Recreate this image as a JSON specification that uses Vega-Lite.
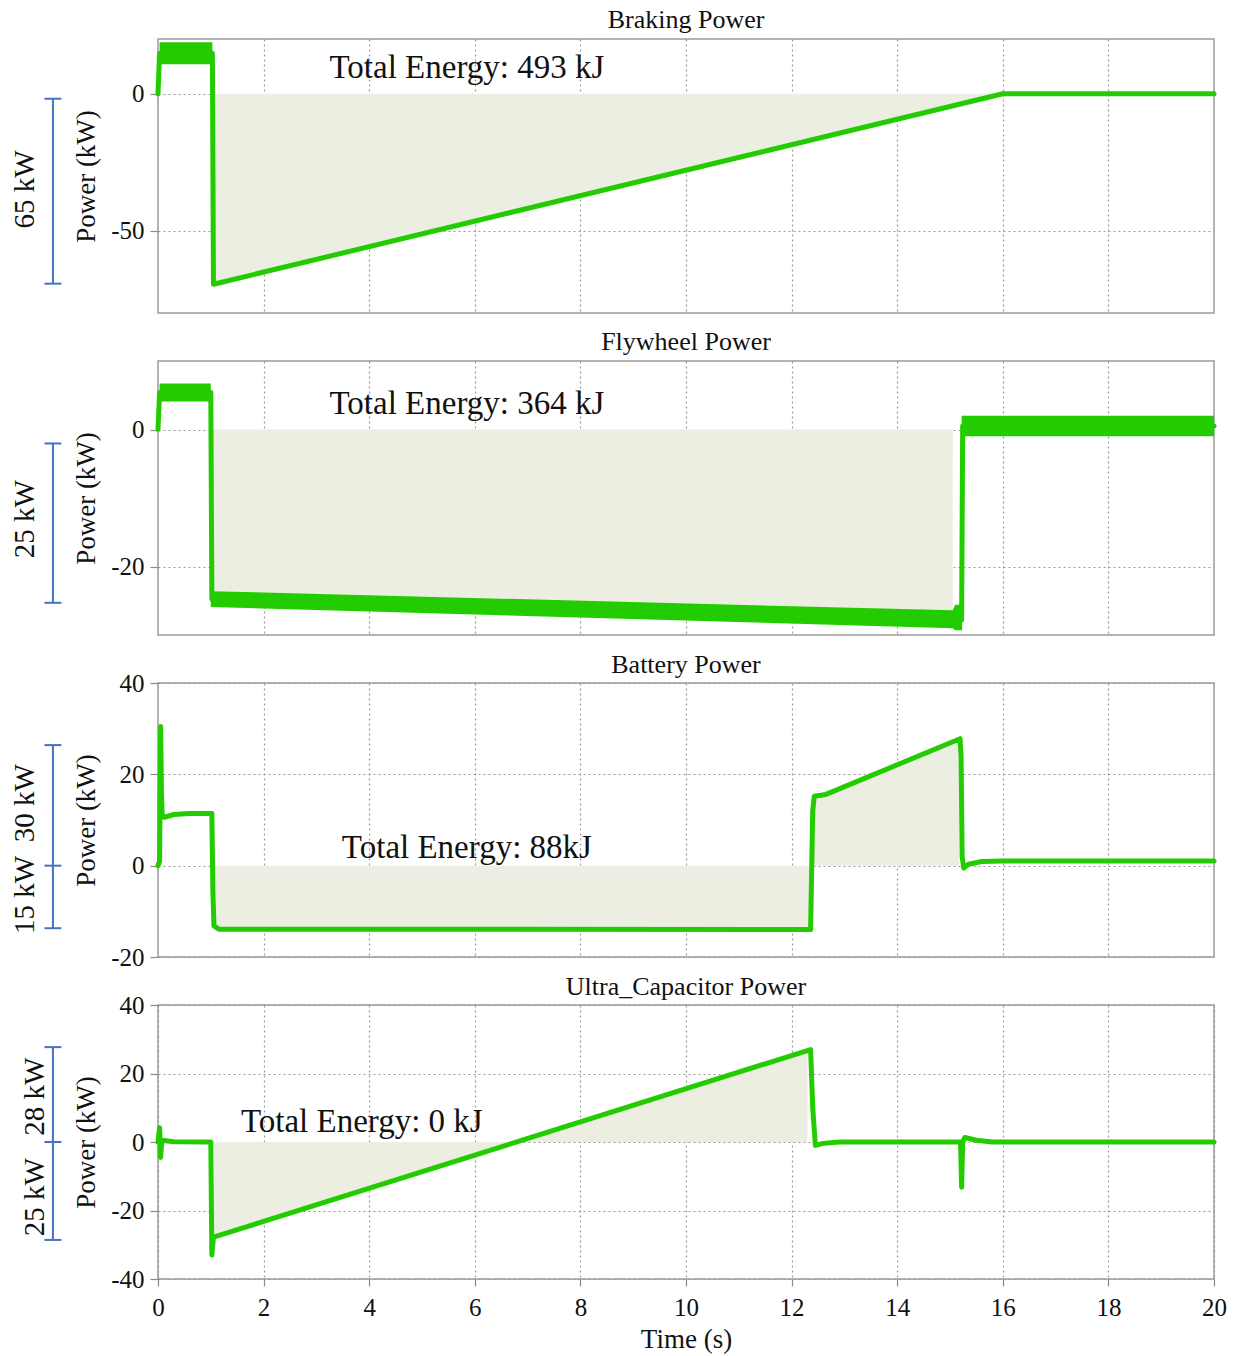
{
  "$schema": "https://vega.github.io/schema/vega-lite/v6.json",
  "padding": {"left": 10, "top": 6, "right": 10, "bottom": 4},
  "background": "white",
  "config": {
    "font": "Liberation Serif",
    "view": {"stroke": "#9a9a9a", "strokeWidth": 1.5},
    "axis": {
      "domain": false,
      "gridColor": "#9a9a9a",
      "gridDash": [2, 3],
      "gridWidth": 1.2,
      "tickColor": "#8a8a8a",
      "tickSize": 8,
      "tickWidth": 1.2,
      "labelFont": "Liberation Serif",
      "labelFontSize": 25,
      "labelColor": "#111",
      "labelPadding": 6,
      "labelExpr": "'' + datum.value",
      "titleFont": "Liberation Serif",
      "titleFontSize": 27,
      "titleFontWeight": "normal",
      "titleColor": "#111"
    },
    "title": {"font": "Liberation Serif", "fontSize": 26, "fontWeight": "normal", "color": "#111", "offset": 6}
  },
  "datasets": {
    "brake_line": [
      {"t": 0, "p": 0}, {"t": 0.03, "p": 14.8}, {"t": 1.03, "p": 14.8}, {"t": 1.05, "p": -69.5}, {"t": 16, "p": 0}, {"t": 20, "p": 0}
    ],
    "brake_band": [
      {"t": 0.03, "p": 10.8, "p2": 18.8}, {"t": 1.03, "p": 10.8, "p2": 18.8}
    ],
    "brake_fill": [
      {"t": 1.06, "p": -69}, {"t": 16, "p": 0}
    ],
    "brake_br": [
      {"t": -1.99, "p": -1.8, "p2": -69.3}
    ],
    "brake_cap": [
      {"t": -2.15, "t2": -1.83, "p": -1.8}, {"t": -2.15, "t2": -1.83, "p": -69.3}
    ],
    "brake_lab": [
      {"t": -2.52, "p": -34.9, "label": "65 kW"}
    ],
    "brake_txt": [
      {"t": 5.85, "p": 9.5, "label": "Total Energy: 493 kJ"}
    ],
    "fly_line": [
      {"t": 0, "p": 0}, {"t": 0.03, "p": 5.4}, {"t": 1.0, "p": 5.4}, {"t": 1.02, "p": -24.8}, {"t": 15.1, "p": -27.6}, {"t": 15.22, "p": -27.8}, {"t": 15.24, "p": 0.5}, {"t": 20, "p": 0.5}
    ],
    "fly_band": [
      {"t": 0.03, "p": 4.1, "p2": 6.7}, {"t": 1.0, "p": 4.1, "p2": 6.7}
    ],
    "fly_band2": [
      {"t": 1.0, "p": -25.9, "p2": -23.6}, {"t": 15.05, "p": -29.0, "p2": -26.4}, {"t": 15.1, "p": -29.3, "p2": -25.6}, {"t": 15.23, "p": -29.3, "p2": -25.6}
    ],
    "fly_band3": [
      {"t": 15.22, "p": -1.0, "p2": 2.0}, {"t": 20, "p": -1.0, "p2": 2.0}
    ],
    "fly_fill": [
      {"t": 1.03, "p": -23.7}, {"t": 15.05, "p": -26.5}
    ],
    "fly_br": [
      {"t": -1.99, "p": -2.04, "p2": -25.3}
    ],
    "fly_cap": [
      {"t": -2.15, "t2": -1.83, "p": -2.04}, {"t": -2.15, "t2": -1.83, "p": -25.3}
    ],
    "fly_lab": [
      {"t": -2.52, "p": -13.1, "label": "25 kW"}
    ],
    "fly_txt": [
      {"t": 5.85, "p": 3.65, "label": "Total Energy: 364 kJ"}
    ],
    "batt_line": [
      {"t": 0, "p": 0}, {"t": 0.03, "p": 1}, {"t": 0.05, "p": 30.5}, {"t": 0.065, "p": 16}, {"t": 0.08, "p": 11}, {"t": 0.12, "p": 10.6}, {"t": 0.3, "p": 11.2}, {"t": 0.6, "p": 11.4}, {"t": 1.02, "p": 11.4}, {"t": 1.04, "p": -6}, {"t": 1.06, "p": -13.2}, {"t": 1.15, "p": -13.9}, {"t": 12.36, "p": -14}, {"t": 12.4, "p": 12}, {"t": 12.43, "p": 15.2}, {"t": 12.65, "p": 15.6}, {"t": 15.19, "p": 27.8}, {"t": 15.21, "p": 24}, {"t": 15.23, "p": 2}, {"t": 15.26, "p": -0.5}, {"t": 15.35, "p": 0.3}, {"t": 15.6, "p": 0.9}, {"t": 16, "p": 1.0}, {"t": 20, "p": 1.0}
    ],
    "batt_fill": [
      {"t": 1.05, "p": -13.6}, {"t": 12.35, "p": -13.6}
    ],
    "batt_fill2": [
      {"t": 12.42, "p": 15.0}, {"t": 12.65, "p": 15.3}, {"t": 15.17, "p": 27.4}
    ],
    "batt_br": [
      {"t": -1.99, "p": 26.4, "p2": -13.7}
    ],
    "batt_cap": [
      {"t": -2.15, "t2": -1.83, "p": 26.4}, {"t": -2.15, "t2": -1.83, "p": 0}, {"t": -2.15, "t2": -1.83, "p": -13.7}
    ],
    "batt_lab": [
      {"t": -2.52, "p": 13.7, "label": "30 kW"}, {"t": -2.52, "p": -6.4, "label": "15 kW"}
    ],
    "batt_txt": [
      {"t": 5.85, "p": 3.9, "label": "Total Energy: 88kJ"}
    ],
    "uc_line": [
      {"t": 0, "p": 0}, {"t": 0.03, "p": 4.2}, {"t": 0.05, "p": -4.5}, {"t": 0.07, "p": 0.5}, {"t": 0.3, "p": 0.1}, {"t": 1.0, "p": 0}, {"t": 1.02, "p": -33}, {"t": 1.05, "p": -27.8}, {"t": 12.36, "p": 27}, {"t": 12.4, "p": 10}, {"t": 12.45, "p": -1}, {"t": 12.6, "p": -0.4}, {"t": 12.9, "p": 0}, {"t": 15.2, "p": 0}, {"t": 15.22, "p": -13.2}, {"t": 15.24, "p": 0}, {"t": 15.28, "p": 1.3}, {"t": 15.5, "p": 0.5}, {"t": 15.8, "p": 0}, {"t": 20, "p": 0}
    ],
    "uc_fill": [
      {"t": 1.06, "p": -27.3}, {"t": 12.3, "p": 26.5}
    ],
    "uc_br": [
      {"t": -1.99, "p": 27.7, "p2": -28.6}
    ],
    "uc_cap": [
      {"t": -2.15, "t2": -1.83, "p": 27.7}, {"t": -2.15, "t2": -1.83, "p": 0}, {"t": -2.15, "t2": -1.83, "p": -28.6}
    ],
    "uc_lab": [
      {"t": -2.33, "p": 13.2, "label": "28 kW"}, {"t": -2.33, "p": -16.1, "label": "25 kW"}
    ],
    "uc_txt": [
      {"t": 3.86, "p": 5.7, "label": "Total Energy: 0 kJ"}
    ]
  },
  "bounds": "flush",
  "spacing": 48,
  "vconcat": [
    {
      "title": "Braking Power",
      "width": 1056,
      "height": 274,
      "encoding": {
        "x": {"field": "t", "type": "quantitative", "scale": {"domain": [0, 20], "nice": false}, "axis": {"values": [2, 4, 6, 8, 10, 12, 14, 16, 18], "labels": false, "ticks": false, "title": null}},
        "y": {"field": "p", "type": "quantitative", "scale": {"domain": [-80, 20], "nice": false}, "axis": {"values": [0, -50], "title": "Power (kW)", "titlePadding": 10}}
      },
      "layer": [
        {"data": {"name": "brake_fill"}, "mark": {"type": "area", "color": "#ebeee0"}, "encoding": {"y2": {"datum": 0}}},
        {"data": {"name": "brake_band"}, "mark": {"type": "area", "color": "#22cc00"}, "encoding": {"y2": {"field": "p2"}}},
        {"data": {"name": "brake_line"}, "mark": {"type": "line", "color": "#22cc00", "strokeWidth": 5, "strokeJoin": "round", "strokeCap": "round"}},
        {"data": {"name": "brake_br"}, "mark": {"type": "rule", "color": "#4472c4", "strokeWidth": 2}, "encoding": {"y2": {"field": "p2"}}},
        {"data": {"name": "brake_cap"}, "mark": {"type": "rule", "color": "#4472c4", "strokeWidth": 2}, "encoding": {"x2": {"field": "t2"}}},
        {"data": {"name": "brake_lab"}, "mark": {"type": "text", "angle": 270, "fontSize": 29, "align": "center", "baseline": "middle", "color": "#111"}, "encoding": {"text": {"field": "label"}}},
        {"data": {"name": "brake_txt"}, "mark": {"type": "text", "fontSize": 33, "align": "center", "baseline": "middle", "color": "#111"}, "encoding": {"text": {"field": "label"}}}
      ]
    },
    {
      "title": "Flywheel Power",
      "width": 1056,
      "height": 274,
      "encoding": {
        "x": {"field": "t", "type": "quantitative", "scale": {"domain": [0, 20], "nice": false}, "axis": {"values": [2, 4, 6, 8, 10, 12, 14, 16, 18], "labels": false, "ticks": false, "title": null}},
        "y": {"field": "p", "type": "quantitative", "scale": {"domain": [-30, 10], "nice": false}, "axis": {"values": [0, -20], "title": "Power (kW)", "titlePadding": 10}}
      },
      "layer": [
        {"data": {"name": "fly_fill"}, "mark": {"type": "area", "color": "#ebeee0"}, "encoding": {"y2": {"datum": 0}}},
        {"data": {"name": "fly_band"}, "mark": {"type": "area", "color": "#22cc00"}, "encoding": {"y2": {"field": "p2"}}},
        {"data": {"name": "fly_band2"}, "mark": {"type": "area", "color": "#22cc00"}, "encoding": {"y2": {"field": "p2"}}},
        {"data": {"name": "fly_band3"}, "mark": {"type": "area", "color": "#22cc00"}, "encoding": {"y2": {"field": "p2"}}},
        {"data": {"name": "fly_line"}, "mark": {"type": "line", "color": "#22cc00", "strokeWidth": 5, "strokeJoin": "round", "strokeCap": "round"}},
        {"data": {"name": "fly_br"}, "mark": {"type": "rule", "color": "#4472c4", "strokeWidth": 2}, "encoding": {"y2": {"field": "p2"}}},
        {"data": {"name": "fly_cap"}, "mark": {"type": "rule", "color": "#4472c4", "strokeWidth": 2}, "encoding": {"x2": {"field": "t2"}}},
        {"data": {"name": "fly_lab"}, "mark": {"type": "text", "angle": 270, "fontSize": 29, "align": "center", "baseline": "middle", "color": "#111"}, "encoding": {"text": {"field": "label"}}},
        {"data": {"name": "fly_txt"}, "mark": {"type": "text", "fontSize": 33, "align": "center", "baseline": "middle", "color": "#111"}, "encoding": {"text": {"field": "label"}}}
      ]
    },
    {
      "title": {"text": "Battery Power", "offset": -7},
      "width": 1056,
      "height": 274,
      "encoding": {
        "x": {"field": "t", "type": "quantitative", "scale": {"domain": [0, 20], "nice": false}, "axis": {"values": [2, 4, 6, 8, 10, 12, 14, 16, 18], "labels": false, "ticks": false, "title": null}},
        "y": {"field": "p", "type": "quantitative", "scale": {"domain": [-20, 40], "nice": false}, "axis": {"values": [40, 20, 0, -20], "title": "Power (kW)", "titlePadding": 10}}
      },
      "layer": [
        {"data": {"name": "batt_fill"}, "mark": {"type": "area", "color": "#ebeee0"}, "encoding": {"y2": {"datum": 0}}},
        {"data": {"name": "batt_fill2"}, "mark": {"type": "area", "color": "#ebeee0"}, "encoding": {"y2": {"datum": 0}}},
        {"data": {"name": "batt_line"}, "mark": {"type": "line", "color": "#22cc00", "strokeWidth": 5, "strokeJoin": "round", "strokeCap": "round"}},
        {"data": {"name": "batt_br"}, "mark": {"type": "rule", "color": "#4472c4", "strokeWidth": 2}, "encoding": {"y2": {"field": "p2"}}},
        {"data": {"name": "batt_cap"}, "mark": {"type": "rule", "color": "#4472c4", "strokeWidth": 2}, "encoding": {"x2": {"field": "t2"}}},
        {"data": {"name": "batt_lab"}, "mark": {"type": "text", "angle": 270, "fontSize": 29, "align": "center", "baseline": "middle", "color": "#111"}, "encoding": {"text": {"field": "label"}}},
        {"data": {"name": "batt_txt"}, "mark": {"type": "text", "fontSize": 33, "align": "center", "baseline": "middle", "color": "#111"}, "encoding": {"text": {"field": "label"}}}
      ]
    },
    {
      "title": {"text": "Ultra_Capacitor Power", "offset": -7},
      "width": 1056,
      "height": 274,
      "encoding": {
        "x": {"field": "t", "type": "quantitative", "scale": {"domain": [0, 20], "nice": false}, "axis": {"values": [0, 2, 4, 6, 8, 10, 12, 14, 16, 18, 20], "title": "Time (s)", "tickSize": 7, "labelPadding": 9, "labelFlush": false, "titlePadding": 6}},
        "y": {"field": "p", "type": "quantitative", "scale": {"domain": [-40, 40], "nice": false}, "axis": {"values": [40, 20, 0, -20, -40], "title": "Power (kW)", "titlePadding": 10}}
      },
      "layer": [
        {"data": {"name": "uc_fill"}, "mark": {"type": "area", "color": "#ebeee0"}, "encoding": {"y2": {"datum": 0}}},
        {"data": {"name": "uc_line"}, "mark": {"type": "line", "color": "#22cc00", "strokeWidth": 5, "strokeJoin": "round", "strokeCap": "round"}},
        {"data": {"name": "uc_br"}, "mark": {"type": "rule", "color": "#4472c4", "strokeWidth": 2}, "encoding": {"y2": {"field": "p2"}}},
        {"data": {"name": "uc_cap"}, "mark": {"type": "rule", "color": "#4472c4", "strokeWidth": 2}, "encoding": {"x2": {"field": "t2"}}},
        {"data": {"name": "uc_lab"}, "mark": {"type": "text", "angle": 270, "fontSize": 29, "align": "center", "baseline": "middle", "color": "#111"}, "encoding": {"text": {"field": "label"}}},
        {"data": {"name": "uc_txt"}, "mark": {"type": "text", "fontSize": 33, "align": "center", "baseline": "middle", "color": "#111"}, "encoding": {"text": {"field": "label"}}}
      ]
    }
  ]
}
